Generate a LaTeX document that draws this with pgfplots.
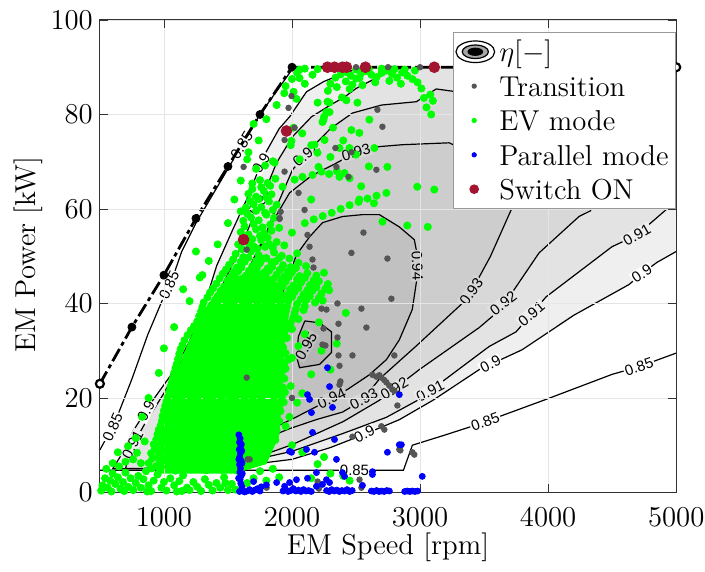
\documentclass[border=0pt]{standalone}
\usepackage{fontspec}
\usepackage{pgfplots}
\pgfplotsset{compat=1.18}
\newfontfamily\lblfont{Liberation Sans}
\definecolor{c90}{HTML}{EFEFEF}
\definecolor{c91}{HTML}{E3E3E3}
\definecolor{c92}{HTML}{D8D8D8}
\definecolor{c93}{HTML}{CDCDCD}
\definecolor{c94}{HTML}{C1C1C1}
\definecolor{c95}{HTML}{B4B4B4}
\definecolor{trans}{HTML}{555555}
\definecolor{evg}{HTML}{00FF00}
\definecolor{parb}{HTML}{0000FF}
\definecolor{swr}{HTML}{A2142F}
\newcommand{\lbl}[5]{\node[font={\lblfont\fontsize{7.5}{9}\selectfont}, fill=#5, inner sep=0.6pt, rotate=#3] at (axis cs:#1,#2) {#4};}
\newcommand{\lstrut}{\rule[-4.6pt]{0pt}{16.3pt}}
\begin{document}
\begin{tikzpicture}
\begin{axis}[
  scale only axis, width=288.5pt, height=236.5pt,
  xmin=500, xmax=5000, ymin=0, ymax=100,
  xtick={1000,2000,3000,4000,5000}, ytick={0,20,40,60,80,100},
  scaled ticks=false,
  /pgf/number format/1000 sep={},
  tick label style={font=\Large},
  xticklabel style={inner xsep=0pt, yshift=-4pt},
  xlabel={EM Speed [rpm]}, ylabel={EM Power [kW]},
  every axis x label/.style={at={(axis description cs:0.5,-0.116)},anchor=center,font=\Large},
  every axis y label/.style={at={(axis description cs:-0.125,0.503)},rotate=90,anchor=center,font=\Large},
  grid=major, grid style={black!10, line width=0.4pt},
  axis on top,
  axis line style={black!80, line width=0.5pt},
  tick style={black!80},
  tick align=inside, major tick length=4pt,
  legend style={at={(axis description cs:0.612,0.975)}, anchor=north west, font=\Large, draw=black!40, fill=white, inner sep=1.2pt},
  legend cell align=left,
]
% efficiency regions
\addplot[fill=c90, draw=none, forget plot] coordinates {(5000,90)(5000,51)(4850,48.7)(4732,46.3)(4631,44)(4200,37.5)(3797,30.2)(3462,26)(3100,19.5)(2838,15.4)(2565,12.3)(2300,9.5)(2000,7)(1700,6)(1500,5.3)(1000,5.05)(600,5)(680,8.5)(757,12.9)(900,19)(1069,25.4)(1200,32)(1303,39)(1360,43.5)(1412,48)(1537,55.6)(1646,62)(1786,71.5)(1900,77)(1981,79.5)(2113,84.8)(2250,87)(2371,88.3)(2500,89.6)(2600,90)};
\addplot[fill=c91, draw=none, forget plot] coordinates {(5000,90)(5000,62)(4919,59.8)(4693,54.5)(4498,52)(3984,41.4)(3750,34)(3540,30.9)(3200,24)(2994,19.7)(2737,15.9)(2400,12.5)(2000,8.7)(1800,7.5)(1600,6)(1400,5.4)(1000,5.15)(700,5.05)(750,9.7)(850,14.5)(1000,21)(1150,28.5)(1300,35.5)(1373,39.5)(1490,45.7)(1591,51.4)(1700,58.5)(1800,64.5)(1880,69.8)(2004,75.3)(2152,79.5)(2300,82)(2410,83.7)(2500,85.5)(2628,87.3)(2737,88.8)(2850,89.8)(2900,90)};
\addplot[fill=c92, draw=none, forget plot] coordinates {(880,5.1)(952,13.3)(1050,19)(1200,26)(1350,33)(1450,37.5)(1537,41)(1620,45)(1700,49.5)(1800,55)(1880,60.5)(2004,68.3)(2152,72.9)(2300,77)(2472,80.3)(2700,82)(2971,82.7)(3126,85.4)(3500,84)(3900,79)(4250,70)(4400,63.5)(4330,59.6)(4241,58.4)(3929,50.7)(3719,42.3)(3579,37.6)(3462,34.9)(2994,26)(2682,19.5)(2400,15)(2000,10.1)(1700,7.2)(1500,6)(1200,5.4)(880,5.1)};
\addplot[fill=c93, draw=none, forget plot] coordinates {(1000,5.3)(1050,11)(1150,17)(1300,24)(1450,31)(1560,38)(1669,47)(1825,56.2)(1981,63.4)(2150,67)(2332,69.5)(2500,72)(2682,73.2)(2862,73.6)(3228,74)(3450,71)(3650,64.5)(3711,59.8)(3550,50)(3400,42.5)(3329,40)(2970,31)(2682,24)(2550,19.5)(2394,17)(2200,15.5)(1981,13.5)(1800,11.5)(1669,10)(1500,7.5)(1300,6)(1000,5.3)};
\addplot[fill=c94, draw=none, forget plot] coordinates {(1550,9)(1600,14)(1650,20)(1750,28)(1850,36)(1950,44)(2035,50.3)(2137,54.1)(2238,57.1)(2394,58.4)(2550,58.8)(2682,58.8)(2838,56.2)(2955,53.5)(2978,50.3)(2978,45.7)(2939,38.7)(2838,32.3)(2737,28.1)(2604,24.9)(2433,21.8)(2250,19)(2000,15.5)(1800,13)(1650,11)(1550,9)};
\addplot[fill=c95, draw=none, forget plot] coordinates {(2100,36.3)(2215,35.9)(2308,34)(2308,29.6)(2215,27.1)(2059,26.4)(2035,28.8)(2050,33)(2100,36.3)};
% contour lines
\addplot[black, line width=0.6pt, forget plot] coordinates {(500,9)(617,14.8)(750,24)(874,33.4)(1000,41.5)(1069,45.5)(1139,51)(1250,57)(1500,68.5)(1607,73.5)(1750,80)(2000,89.5)};
\addplot[black, line width=0.6pt, forget plot] coordinates {(500,4.7)(2870,4.7)(2940,10)(3200,12.2)(3462,14.5)(3984,19.7)(4500,25)(4709,26.6)(5000,29.5)};
\addplot[black, line width=0.6pt, forget plot] coordinates {(5000,51)(4850,48.7)(4732,46.3)(4631,44)(4200,37.5)(3797,30.2)(3462,26)(3100,19.5)(2838,15.4)(2565,12.3)(2300,9.5)(2000,7)(1700,6)(1500,5.3)(1000,5.05)(600,5)(680,8.5)(757,12.9)(900,19)(1069,25.4)(1200,32)(1303,39)(1360,43.5)(1412,48)(1537,55.6)(1646,62)(1786,71.5)(1900,77)(1981,79.5)(2113,84.8)(2250,87)(2371,88.3)(2500,89.6)(2600,90)};
\addplot[black, line width=0.6pt, forget plot] coordinates {(5000,62)(4919,59.8)(4693,54.5)(4498,52)(3984,41.4)(3750,34)(3540,30.9)(3200,24)(2994,19.7)(2737,15.9)(2400,12.5)(2000,8.7)(1800,7.5)(1600,6)(1400,5.4)(1000,5.15)(700,5.05)(750,9.7)(850,14.5)(1000,21)(1150,28.5)(1300,35.5)(1373,39.5)(1490,45.7)(1591,51.4)(1700,58.5)(1800,64.5)(1880,69.8)(2004,75.3)(2152,79.5)(2300,82)(2410,83.7)(2500,85.5)(2628,87.3)(2737,88.8)(2850,89.8)(2900,90)};
\addplot[black, line width=0.6pt, forget plot] coordinates {(880,5.1)(952,13.3)(1050,19)(1200,26)(1350,33)(1450,37.5)(1537,41)(1620,45)(1700,49.5)(1800,55)(1880,60.5)(2004,68.3)(2152,72.9)(2300,77)(2472,80.3)(2700,82)(2971,82.7)(3126,85.4)(3500,84)(3900,79)(4250,70)(4400,63.5)(4330,59.6)(4241,58.4)(3929,50.7)(3719,42.3)(3579,37.6)(3462,34.9)(2994,26)(2682,19.5)(2400,15)(2000,10.1)(1700,7.2)(1500,6)(1200,5.4)(880,5.1)};
\addplot[black, line width=0.6pt, forget plot] coordinates {(1000,5.3)(1050,11)(1150,17)(1300,24)(1450,31)(1560,38)(1669,47)(1825,56.2)(1981,63.4)(2150,67)(2332,69.5)(2500,72)(2682,73.2)(2862,73.6)(3228,74)(3450,71)(3650,64.5)(3711,59.8)(3550,50)(3400,42.5)(3329,40)(2970,31)(2682,24)(2550,19.5)(2394,17)(2200,15.5)(1981,13.5)(1800,11.5)(1669,10)(1500,7.5)(1300,6)(1000,5.3)};
\addplot[black, line width=0.6pt, forget plot] coordinates {(1550,9)(1600,14)(1650,20)(1750,28)(1850,36)(1950,44)(2035,50.3)(2137,54.1)(2238,57.1)(2394,58.4)(2550,58.8)(2682,58.8)(2838,56.2)(2955,53.5)(2978,50.3)(2978,45.7)(2939,38.7)(2838,32.3)(2737,28.1)(2604,24.9)(2433,21.8)(2250,19)(2000,15.5)(1800,13)(1650,11)(1550,9)};
\addplot[black, line width=0.6pt, forget plot] coordinates {(2100,36.3)(2215,35.9)(2308,34)(2308,29.6)(2215,27.1)(2059,26.4)(2035,28.8)(2050,33)(2100,36.3)};
% contour labels
\lbl{1040}{43.8}{66}{0.85}{white}
\lbl{600}{13.8}{66}{0.85}{white}
\lbl{1607}{73.5}{58}{0.85}{white}
\lbl{2488}{4.7}{0}{0.85}{white}
\lbl{3509}{15}{20}{0.85}{white}
\lbl{4709}{26.6}{19}{0.85}{white}
\lbl{3550}{27.1}{28}{0.9}{white}
\lbl{4732}{46.3}{33}{0.9}{white}
\lbl{2565}{12.3}{27}{0.9}{white}
\lbl{860}{17.2}{62}{0.9}{white}
\lbl{1760}{69.7}{58}{0.9}{white}
\lbl{4693}{54.5}{30}{0.91}{c90}
\lbl{3870}{37.8}{40}{0.91}{c90}
\lbl{3080}{21.5}{27}{0.91}{c90}
\lbl{755}{10.1}{62}{0.91}{c90}
\lbl{1750}{61.5}{55}{0.91}{c90}
\lbl{3650}{40}{37}{0.92}{c91}
\lbl{2800}{22}{30}{0.92}{c91}
\lbl{2110}{71.5}{40}{0.92}{c91}
\lbl{3400}{42.5}{55}{0.93}{c92}
\lbl{2560}{19.8}{28}{0.93}{c92}
\lbl{2500}{72}{15}{0.93}{c92}
\lbl{2978}{48}{-88}{0.94}{c93}
\lbl{2310}{19.9}{25}{0.94}{c93}
\lbl{2110}{31}{60}{0.95}{c94}
% maximum power boundary
\addplot[black, line width=1.4pt, dash pattern=on 7pt off 2pt on 2pt off 2pt, forget plot] coordinates {(500,23)(750,35)(1000,46)(1250,58)(1500,69)(1750,80)(2000,90)(5000,90)};
\addplot[only marks, mark=*, mark size=2pt, mark options={fill=black}, forget plot] coordinates {(750,35)(1000,46)(1250,58)(1500,69)(1750,80)(2000,90)};
\addplot[only marks, mark=*, mark size=2pt, mark options={draw=black, fill=white, line width=1.1pt}, forget plot] coordinates {(500,23)(5000,90)};
% EV mode: dense core where the dots merge
\addplot[fill=evg, draw=none, forget plot] coordinates {(950,4)(1550,4)(1800,6)(1900,12)(1930,25)(1950,33)(1990,40)(1900,44)(1750,47)(1600,46)(1450,44)(1300,38)(1180,31)(1080,24)(1000,16)(930,9)(950,4)};
\addplot[only marks, mark=*, mark size=1.8pt, color=evg, forget plot] coordinates {
(520,1.5)(540,3)(560,1)(580,2.5)(600,4)(620,1.8)(640,3.2)(660,0.8)(680,2.2)(700,4.2)(720,1.2)(740,3)(760,0.5)(780,2)(800,3.5)(820,1)(840,2.8)(860,4.5)(880,1.5)(900,0.3)(920,2.5)(950,3.8)(980,1)(1000,2.2)(1020,0.4)(1050,3)(1080,1.5)(1100,0.2)(1120,2.4)(1150,3.6)(1180,1)(1200,0.5)(1230,2.2)(1260,1.2)(1290,0.3)(1320,2.8)(1350,1.6)(1380,0.4)(1410,2)(1440,1)(1470,3.2)(1500,0.5)(1530,1.8)(1560,0.6)(700,6.5)(650,5.5)(600,6.2)(550,5)(760,7)(820,6.2)(510,0.4)(590,0.2)(690,0.3)(870,0.2)(1140,0.3)(1480,2)(640,8.5)(720,9.8)(790,8.4)(850,10.8)
(905,5.1)(965,4.8)(1030,5.4)(1090,4.6)(1150,5.2)(1210,4.9)(1270,5.5)(1330,4.7)(1390,5.3)(1450,4.8)(1510,5.4)(1570,4.6)
(880,6.2)(940,5.6)(1000,6.8)(1060,5.9)(1120,6.5)(1180,5.4)(1240,6.9)(1300,6.1)(1360,5.7)(1420,6.6)(1480,5.8)(1540,6.3)(1620,5.5)(1700,6.4)
(910,7.2)(970,6.9)(1030,7.6)(1090,7.0)(1150,7.4)(1210,6.6)(1270,7.7)(1330,7.1)(1390,6.8)(1450,7.5)(1510,7.0)(1570,7.3)(1670,6.9)(1750,7.4)
(900,8.3)(960,7.6)(1020,8.8)(1080,7.9)(1140,8.5)(1200,7.4)(1260,8.9)(1320,8.1)(1380,7.7)(1440,8.6)(1500,7.8)(1560,8.4)(1640,7.6)(1720,8.7)(1790,8.1)
(930,9.3)(990,8.8)(1050,9.7)(1110,9.0)(1170,9.5)(1230,8.7)(1290,9.8)(1350,9.2)(1410,8.9)(1470,9.6)(1530,9.1)(1620,9.4)(1690,8.9)(1770,9.5)
(920,10.2)(975,9.6)(1035,10.8)(1095,9.9)(1150,10.5)(1210,9.4)(1270,10.9)(1330,10.1)(1390,9.7)(1450,10.6)(1510,9.8)(1570,10.4)(1650,9.7)(1730,10.6)(1820,10.2)
(940,11.2)(1000,10.7)(1060,11.6)(1120,10.9)(1180,11.4)(1240,10.6)(1300,11.7)(1360,11.1)(1420,10.8)(1480,11.5)(1540,11.0)(1630,11.3)(1710,10.8)(1790,11.4)(1870,11.1)
(950,12.3)(1010,11.6)(1065,12.8)(1125,11.9)(1185,12.5)(1240,11.4)(1300,12.9)(1360,12.1)(1420,11.7)(1480,12.6)(1540,11.8)(1600,12.4)(1680,11.9)(1760,12.7)(1850,12.1)
(960,13.3)(1020,12.8)(1080,13.7)(1140,13.0)(1200,13.5)(1260,12.7)(1320,13.8)(1380,13.2)(1440,12.9)(1500,13.6)(1560,13.1)(1650,13.4)(1730,12.9)(1810,13.5)(1880,13.2)
(975,14.2)(1030,13.6)(1090,14.8)(1150,13.9)(1210,14.5)(1265,13.4)(1325,14.9)(1385,14.1)(1445,13.7)(1505,14.6)(1565,13.8)(1625,14.4)(1700,13.9)(1780,14.7)(1860,14.3)
(985,15.2)(1045,14.7)(1105,15.6)(1165,14.9)(1225,15.4)(1285,14.6)(1345,15.7)(1405,15.1)(1465,14.8)(1525,15.5)(1585,15.0)(1660,15.3)(1740,14.8)(1820,15.4)(1900,15.1)
(990,16.2)(1050,15.6)(1110,16.8)(1170,15.9)(1230,16.5)(1290,15.4)(1350,16.9)(1410,16.1)(1470,15.7)(1530,16.6)(1590,15.8)(1650,16.4)(1720,15.9)(1800,16.7)(1880,16.1)
(1000,17.3)(1060,16.8)(1120,17.7)(1180,17.0)(1240,17.5)(1300,16.7)(1360,17.8)(1420,17.2)(1480,16.9)(1540,17.6)(1600,17.1)(1680,17.4)(1760,16.9)(1840,17.5)(1910,17.2)
(1010,18.3)(1070,17.6)(1130,18.8)(1190,17.9)(1250,18.5)(1310,17.4)(1370,18.9)(1430,18.1)(1490,17.7)(1550,18.6)(1610,17.8)(1670,18.4)(1740,17.9)(1820,18.7)(1900,18.2)
(1020,19.2)(1080,18.7)(1140,19.6)(1200,18.9)(1260,19.4)(1320,18.6)(1380,19.7)(1440,19.1)(1500,18.8)(1560,19.5)(1620,19.0)(1700,19.3)(1780,18.8)(1860,19.4)(1935,19.1)
(1030,20.2)(1090,19.6)(1150,20.8)(1210,19.9)(1270,20.5)(1330,19.4)(1390,20.9)(1450,20.1)(1510,19.7)(1570,20.6)(1630,19.8)(1690,20.4)(1760,19.9)(1840,20.7)(1920,20.1)
(1040,21.3)(1100,20.8)(1160,21.7)(1220,21.0)(1280,21.5)(1340,20.7)(1400,21.8)(1460,21.2)(1520,20.9)(1580,21.6)(1640,21.1)(1720,21.4)(1800,20.9)(1880,21.5)(1945,21.2)
(1050,22.3)(1110,21.6)(1170,22.8)(1230,21.9)(1290,22.5)(1350,21.4)(1410,22.9)(1470,22.1)(1530,21.7)(1590,22.6)(1650,21.8)(1710,22.4)(1780,21.9)(1860,22.7)(1930,22.2)
(1060,23.2)(1120,22.7)(1180,23.6)(1240,22.9)(1300,23.4)(1360,22.6)(1420,23.7)(1480,23.1)(1540,22.8)(1600,23.5)(1660,23.0)(1740,23.3)(1820,22.8)(1900,23.4)
(1070,24.2)(1130,23.6)(1190,24.8)(1250,23.9)(1310,24.5)(1370,23.4)(1430,24.9)(1490,24.1)(1550,23.7)(1610,24.6)(1670,23.8)(1730,24.4)(1800,23.9)(1870,24.7)(1940,24.1)
(1080,25.3)(1140,24.8)(1200,25.7)(1260,25.0)(1320,25.5)(1380,24.7)(1440,25.8)(1500,25.2)(1560,24.9)(1620,25.6)(1680,25.1)(1760,25.4)(1840,24.9)(1920,25.5)
(1090,26.3)(1150,25.6)(1210,26.8)(1270,25.9)(1330,26.5)(1390,25.4)(1450,26.9)(1510,26.1)(1570,25.7)(1630,26.6)(1690,25.8)(1750,26.4)(1820,25.9)(1890,26.7)(1950,26.2)
(1100,27.2)(1160,26.7)(1220,27.6)(1280,26.9)(1340,27.4)(1400,26.6)(1460,27.7)(1520,27.1)(1580,26.8)(1640,27.5)(1700,27.0)(1780,27.3)(1860,26.8)(1940,27.4)
(1110,28.2)(1170,27.6)(1230,28.8)(1290,27.9)(1350,28.5)(1410,27.4)(1470,28.9)(1530,28.1)(1590,27.7)(1650,28.6)(1710,27.8)(1770,28.4)(1840,27.9)(1910,28.7)(1970,28.1)
(1120,29.3)(1180,28.8)(1240,29.7)(1300,29.0)(1360,29.5)(1420,28.7)(1480,29.8)(1540,29.2)(1600,28.9)(1660,29.6)(1720,29.1)(1800,29.4)(1880,28.9)(1950,29.5)
(1130,30.3)(1190,29.6)(1250,30.8)(1310,29.9)(1370,30.5)(1430,29.4)(1490,30.9)(1550,30.1)(1610,29.7)(1670,30.6)(1730,29.8)(1790,30.4)(1860,29.9)(1930,30.7)
(1145,31.2)(1205,30.7)(1265,31.6)(1325,30.9)(1385,31.4)(1445,30.6)(1505,31.7)(1565,31.1)(1625,30.8)(1685,31.5)(1745,31.0)(1820,31.3)(1900,30.8)
(1160,32.2)(1220,31.6)(1280,32.8)(1340,31.9)(1400,32.5)(1460,31.4)(1520,32.9)(1580,32.1)(1640,31.7)(1700,32.6)(1760,31.8)(1820,32.4)(1890,31.9)(1960,32.7)
(1185,33.3)(1245,32.8)(1305,33.7)(1365,33.0)(1425,33.5)(1485,32.7)(1545,33.8)(1605,33.2)(1665,32.9)(1725,33.6)(1785,33.1)(1850,33.4)(1920,32.9)
(1210,34.3)(1270,33.6)(1330,34.8)(1390,33.9)(1450,34.5)(1510,33.4)(1570,34.9)(1630,34.1)(1690,33.7)(1750,34.6)(1810,33.8)(1870,34.4)(1940,33.9)(2000,34.6)
(1235,35.2)(1295,34.7)(1355,35.6)(1415,34.9)(1475,35.4)(1535,34.6)(1595,35.7)(1655,35.1)(1715,34.8)(1775,35.5)(1835,35.0)(1900,35.3)(1970,34.8)
(1260,36.2)(1320,35.6)(1380,36.8)(1440,35.9)(1500,36.5)(1560,35.4)(1620,36.9)(1680,36.1)(1740,35.7)(1800,36.6)(1860,35.8)(1920,36.4)(1990,35.9)(2050,36.7)
(1275,37.3)(1335,36.8)(1395,37.7)(1455,37.0)(1515,37.5)(1575,36.7)(1635,37.8)(1695,37.2)(1755,36.9)(1815,37.6)(1875,37.1)(1940,37.4)(2010,36.9)
(1290,38.3)(1350,37.6)(1410,38.8)(1470,37.9)(1530,38.5)(1590,37.4)(1650,38.9)(1710,38.1)(1770,37.7)(1830,38.6)(1890,37.8)(1950,38.4)(2020,37.9)(2090,38.6)
(1300,39.2)(1360,38.7)(1420,39.6)(1480,38.9)(1540,39.4)(1600,38.6)(1660,39.7)(1720,39.1)(1780,38.8)(1840,39.5)(1900,39.0)(1960,39.3)(2030,38.8)(2100,39.4)
(1310,40.2)(1370,39.6)(1430,40.8)(1490,39.9)(1550,40.5)(1610,39.4)(1670,40.9)(1730,40.1)(1790,39.7)(1850,40.6)(1910,39.8)(1970,40.4)(2040,39.9)(2110,40.7)(2180,40.2)(2240,40.6)
(1340,41.3)(1400,40.8)(1460,41.7)(1520,41.0)(1580,41.5)(1640,40.7)(1700,41.8)(1760,41.2)(1820,40.9)(1880,41.6)(1940,41.1)(2000,41.4)(2070,40.9)(2140,41.5)(2210,41.2)
(1360,42.3)(1420,41.6)(1480,42.8)(1540,41.9)(1600,42.5)(1660,41.4)(1720,42.9)(1780,42.1)(1840,41.7)(1900,42.6)(1960,41.8)(2020,42.4)(2090,41.9)(2160,42.7)(2230,42.1)(2290,42.8)
(1385,43.2)(1445,42.7)(1505,43.6)(1565,42.9)(1625,43.4)(1685,42.6)(1745,43.7)(1805,43.1)(1865,42.8)(1925,43.5)(1985,43.0)(2050,43.3)(2120,42.8)(2190,43.4)(2260,43.1)
(1410,44.2)(1470,43.6)(1530,44.8)(1590,43.9)(1650,44.5)(1710,43.4)(1770,44.9)(1830,44.1)(1890,43.7)(1950,44.6)(2010,43.8)(2070,44.4)(2140,43.9)(2210,44.7)(2280,44.1)
(1435,45.3)(1495,44.8)(1555,45.7)(1615,45.0)(1675,45.5)(1735,44.7)(1795,45.8)(1855,45.2)(1915,44.9)(1975,45.6)(2040,45.1)(2100,45.4)(2170,44.9)
(1460,46.3)(1520,45.6)(1580,46.8)(1640,45.9)(1700,46.5)(1760,45.4)(1820,46.9)(1880,46.1)(1940,45.7)(2000,46.6)(2060,45.8)(2120,46.4)(2190,45.9)(2250,46.5)
(1485,47.2)(1545,46.7)(1605,47.6)(1665,46.9)(1725,47.4)(1785,46.6)(1845,47.7)(1905,47.1)(1965,46.8)(2030,47.5)
(1510,48.2)(1570,47.6)(1630,48.8)(1690,47.9)(1750,48.5)(1810,47.4)(1870,48.9)(1930,48.1)(1990,47.7)(2050,48.6)(2110,47.9)
(1540,49.3)(1600,48.8)(1660,49.7)(1720,49.0)(1780,49.5)(1840,48.7)(1900,49.6)
(1560,50.5)(1620,49.8)(1680,51)(1740,50.2)(1800,49.6)(1860,50.8)(1920,50.1)(1980,49.5)(2040,50.6)
(1610,51.5)(1670,52.3)(1730,51.6)(1790,52.0)(1850,51.8)(1620,54)(1690,53.6)(1750,54.3)(1810,53.9)(1630,56.3)(1700,56.8)(1770,56.1)(1830,56.7)(1650,59)(1720,59.6)(1790,59.2)(1850,59.8)(1670,61.7)(1740,62.1)(1800,62.5)(1690,64.2)(1760,64.6)(1830,64.9)
(1580,52.5)(1640,53.2)(1700,52.1)(1760,53.4)(1820,52.6)(1880,53)(1940,52.3)
(1600,55.1)(1660,54.6)(1720,55.7)(1780,54.9)(1840,55.4)(1900,56)(2000,55)(2100,57)(2170,57.8)(2240,58.5)(2310,59.2)(2380,60)(2450,60.8)(2520,61.5)(2590,62.2)(2660,62.8)(2737,63.4)
(1620,57.5)(1680,58.2)(1740,57.6)(1800,58.8)(1860,58.1)
(1640,60.3)(1700,61)(1760,60.4)(1820,61.6)(1880,60.9)
(1660,63.2)(1720,62.6)(1780,63.8)(1840,63.1)
(1690,65.4)(1750,66.1)(1810,65.5)(1870,66.4)(1926,64.7)(2020,66.2)(2082,66.8)(2160,67.2)(2230,67.9)(2290,67.4)(2350,68)(2410,67.6)
(1720,68.5)(1790,69.2)(1850,70.1)
(1660,72)(1740,74.5)(1700,78)(1800,79)(1880,82)(1940,84.5)(2000,87.5)(2040,88.8)(1950,86)(2080,76)(2150,73.5)(2250,79.5)(2320,77.2)(2200,82.5)(2400,74.5)(2500,71.5)(2600,69)(2450,66.5)(2540,64.8)(2300,71)(2150,62)(2060,70.5)(1990,73.5)(2900,56.5)(3060,56.2)(2280,85)(2350,85.8)(2390,83.6)(2420,87)(2160,88.4)(2100,86.5)
(2059,87.7)(2012,84.8)(2035,83.3)(2012,77.2)(1996,74.4)(1864,69.8)(2277,82.7)(2269,80.5)(2246,78.9)(2176,73.6)(2199,71.9)(2207,68.9)(2371,72.9)(2464,76.7)(2526,76.1)(2604,78.9)(2449,72.9)(2643,72.9)(2745,68.9)(2371,66.8)(2978,64.7)(3111,64.1)(2706,57.3)(2526,62)(2640,61.2)
(2300,86.5)(2340,87.8)(2380,88.5)(2420,89)(2460,88.2)(2500,87.6)(2540,88.7)(2580,89.2)(2620,88.4)(2660,87.9)(2700,88.8)(2740,89.3)(2780,88.6)(2820,87.8)(2860,88.9)(2900,88.2)(2940,87.5)(2980,86.8)(3010,85.5)(3030,83.5)(3050,81.5)(2960,89.3)(2880,89.5)(2800,89.6)(2700,89.7)(2600,89.6)(2500,89.5)(2400,89.7)(2200,89.6)(2100,89.7)(2060,89.5)(2650,86.8)(2550,86.2)(2450,85.4)(2760,87.1)(2850,86.5)(3080,84.2)(3100,82.9)(3087,80)(2526,87.7)(2472,86.3)(2511,82.5)(2425,83)(2293,82.5)(2293,80.5)(2238,78.4)(2254,74.6)
(1280,45.5)(1200,40.5)(1080,35)(1000,30.5)(960,25.3)(880,20)(830,16)(780,11.5)(1250,51)(1150,43)(1500,57)(1420,52.5)(1550,62)(1600,66)(1650,70.5)(1600,59.5)(1300,46)(1350,49)
(2000,28.5)(2050,31)(2100,33.5)(1990,22.5)(2080,21)(2150,25)(1950,14)(2000,10)(2080,8.5)(2200,6)(2300,4)(2250,7.5)(2400,3.5)(2450,2.5)(2150,3)(1850,5)(1900,3.2)(2300,26)(2230,30)(2350,31.5)(2420,38)(2210,36)(1980,16)(2040,19)(1700,3)(1750,4.5)(1650,2)(1800,2.5)
};
% Transition
\addplot[only marks, mark=*, mark size=1.4pt, color=trans, forget plot] coordinates {
(1996,83.9)(1973,81.4)(2020,77.2)(1942,74.6)(1622,68.9)(1942,67.9)(2051,63.4)(1911,59.4)(1903,57.9)(2121,54.5)(2464,72)(2347,68.9)(2339,72.9)(2441,66.8)(2659,68.3)(2667,81)(2706,77.4)(2558,55)(2464,50.7)(2745,49.5)(2137,52)(2160,49.3)(2168,47.6)(2776,41)(2542,38.9)(2355,40)(2230,38.9)(2363,35.7)(2581,34.9)(2355,32.8)(2246,34.7)(2261,31.1)(2363,29)(2472,29)(2799,29)(2371,26.8)(2378,23.5)(2628,24.9)(2659,24.5)(2682,24.8)(2698,24.3)(2720,23.8)(2737,23.3)(2760,22.6)(2784,21.8)(2799,21.5)(2823,18.4)(2698,14)(2721,13.3)(2846,8.9)(2955,8)(2371,22.8)(2472,11.8)(1669,7)(1802,1)(2191,1.3)(2527,2.7)(2542,1)(2838,9.1)(2940,8.5)(1653,7)(1646,51.4)(1903,58.1)(2098,59.8)(2269,38.7)(2238,31.3)(2500,90)(2750,90)(3000,90)(2200,2.3)(2210,0.8)(1646,24.3)(2000,20)
};
% Parallel mode
\addplot[only marks, mark=*, mark size=1.5pt, color=parb, forget plot] coordinates {
(1585,12.2)(1595,11.4)(1590,10.6)(1600,9.8)(1588,9.1)(1597,8.3)(1592,7.5)(1602,6.7)(1590,5.9)(1598,5.1)(1593,4.3)(1603,3.5)(1595,2.7)(1600,1.9)(1610,1.2)(1605,10.2)(1608,8.8)(1610,6.2)(1612,4)(1585,7)(1583,3)
(1590,0.2)(1610,0.4)(1630,0.1)(1650,0.3)(1670,0.6)(1690,0.2)(1710,0.5)(1730,0.8)(1750,0.3)(1760,1.2)(1930,0.3)(1950,0.6)(1970,0.2)(1990,0.4)(2010,0.8)(2030,0.3)(2050,0.5)(2070,0.2)(2090,0.6)(2110,0.3)(2130,0.4)(2150,0.2)(2270,0.4)(2290,0.2)(2310,0.6)(2330,0.3)(2350,0.5)(2370,0.2)(2390,0.4)(2410,0.3)(2430,0.6)(2450,0.2)(2470,0.4)(2620,0.3)(2640,0.2)(2660,0.4)(2680,0.2)(2700,0.3)(2720,0.2)(2740,0.4)(2760,0.3)(2880,0.2)(2900,0.3)(2920,0.2)(2940,0.3)(2960,0.2)(2980,0.3)
(1880,2.1)(1942,1.3)(1981,2.1)(2035,2.7)(2121,3)(2191,1.3)(2238,1.7)(2293,2.1)(2191,4.2)(2394,4.2)(2628,4.4)(2410,3.4)(2628,3.8)(3017,3.4)(2269,2.7)(1700,2.3)(1800,1.6)(2550,1.5)
(2121,20.7)(2137,19.7)(2152,16.9)(2277,26.4)(2293,22.4)(2316,18)(2160,12.7)(2332,11.2)(1996,8.5)(2113,9.1)(2176,8.5)(1981,8.7)(2347,7)(2745,8.5)(2854,10.1)(2838,20.7)(2838,10.1)
};
% Switch ON
\addplot[only marks, mark=*, mark size=2.7pt, color=swr, forget plot] coordinates {
(2277,90)(2332,90)(2394,90)(2425,90)(2573,90)(3111,90)(1957,76.5)(1622,53.5)
};
% legend
\addlegendimage{legend image code/.code={
  \draw[black, fill=white, line width=0.6pt] (0.32cm,0cm) ellipse (0.34cm and 0.19cm);
  \draw[black, fill=gray!70, line width=0.6pt] (0.32cm,0cm) ellipse (0.23cm and 0.12cm);
  \fill[black] (0.32cm,0cm) ellipse (0.13cm and 0.065cm);}}
\addlegendentry{\lstrut$\eta[-]$}
\addlegendimage{only marks, mark=*, mark size=1.1pt, color=trans}
\addlegendentry{\lstrut Transition}
\addlegendimage{only marks, mark=*, mark size=1.1pt, color=evg}
\addlegendentry{\lstrut EV mode}
\addlegendimage{only marks, mark=*, mark size=1.1pt, color=parb}
\addlegendentry{\lstrut Parallel mode}
\addlegendimage{only marks, mark=*, mark size=2.2pt, color=swr}
\addlegendentry{\lstrut Switch ON}
\end{axis}
\path (-50pt,-39.5pt) rectangle (302.9pt,246.5pt);
\end{tikzpicture}
\end{document}
